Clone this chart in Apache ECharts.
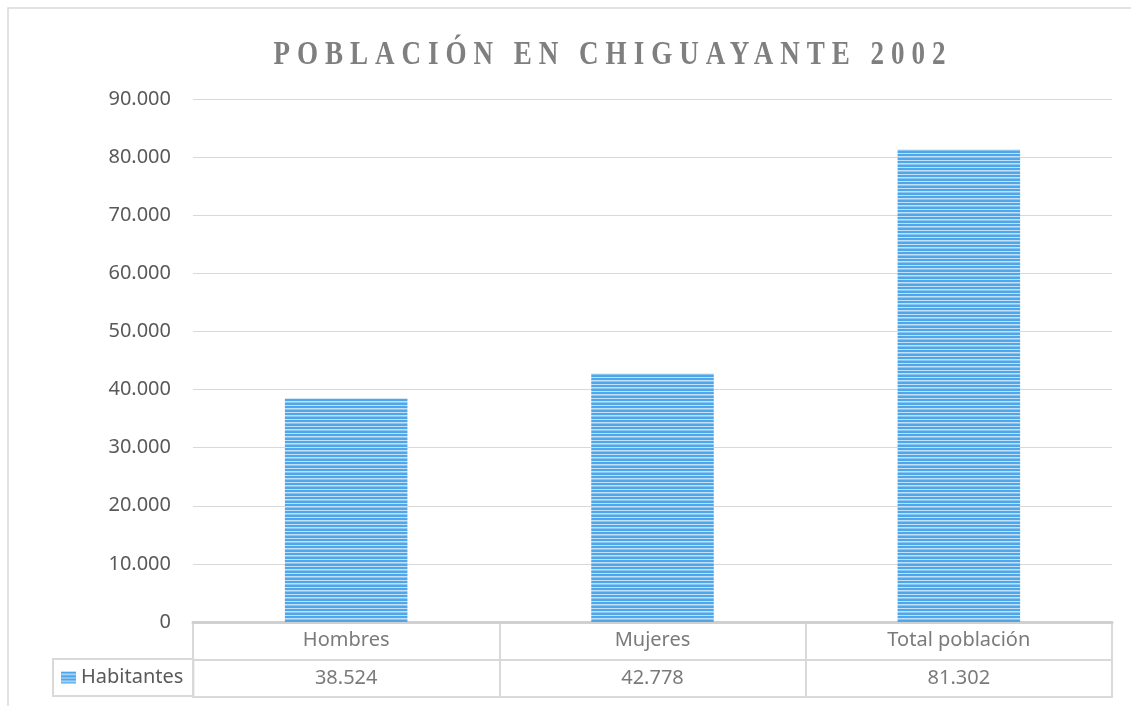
<!DOCTYPE html>
<html>
<head>
<meta charset="utf-8">
<script src="https://cdn.jsdelivr.net/npm/echarts@6/dist/echarts.min.js"></script>
<style>
  html, body { margin: 0; padding: 0; background: #fff; }
  #main { width: 1131px; height: 706px; }
</style>
</head>
<body>
<div id="main"></div>
<script>
// datos
var titulo = 'POBLACIÓN EN CHIGUAYANTE 2002';
var categorias = ['Hombres', 'Mujeres', 'Total población'];
var habitantes = [38524, 42778, 81302];
var nombreSerie = 'Habitantes';
var filasTabla = ['valores', 'encabezado'];   // de abajo hacia arriba
var ejeMax = 90000;
var ejeIntervalo = 10000;

// espaciado de letras solo para el titulo (fuente serif)
var fillTextOriginal = CanvasRenderingContext2D.prototype.fillText;
CanvasRenderingContext2D.prototype.fillText = function () {
    this.letterSpacing = this.font.indexOf('Liberation Serif') >= 0 ? '8.5px' : '0px';
    return fillTextOriginal.apply(this, arguments);
};

function miles(v) {
    return String(v).replace(/\B(?=(\d{3})+(?!\d))/g, '.');
}

// trama de rayas horizontales de las barras
var trama = document.createElement('canvas');
trama.width = 4;
trama.height = 7;
var tctx = trama.getContext('2d');
tctx.fillStyle = '#4fa7eb';
tctx.fillRect(0, 0, 4, 7);
tctx.fillStyle = '#c4e0f7';
tctx.fillRect(0, 2, 4, 1);
tctx.fillRect(0, 6, 4, 1);
tctx.fillStyle = '#8cc4f0';
tctx.fillRect(0, 3, 4, 1);

var colorTexto = '#595959';
var colorLinea = '#d9d9d9';
var fuente = '"Noto Sans", "Open Sans", sans-serif';

var myChart = echarts.init(document.getElementById('main'));

var option = {
    animation: false,
    graphic: [
        {
            type: 'rect',
            shape: { x: 8, y: 8, width: 1200, height: 800 },
            style: { fill: 'none', stroke: colorLinea, lineWidth: 1.5 },
            silent: true
        },
        {
            type: 'text',
            x: 613,
            y: 55,
            scaleX: 0.82,
            style: {
                text: titulo,
                fontSize: 33,
                fontWeight: 'bold',
                fontFamily: '"Liberation Serif", serif',
                fill: '#7f7f7f',
                align: 'center',
                verticalAlign: 'middle'
            },
            silent: true
        }
    ],
    legend: {
        data: [nombreSerie],
        left: 53,
        top: 659,
        padding: [8, 10, 8, 8],
        borderColor: colorLinea,
        borderWidth: 2,
        icon: 'rect',
        itemWidth: 15,
        itemHeight: 12,
        selectedMode: false,
        textStyle: { fontSize: 20, lineHeight: 21, color: colorTexto, fontFamily: fuente }
    },
    grid: [
        { left: 193, right: 19, top: 99, bottom: 84 },
        { left: 193, right: 19, top: 622, height: 75, show: true, borderColor: colorLinea, borderWidth: 2, backgroundColor: 'transparent' }
    ],
    xAxis: [
        {
            type: 'category',
            gridIndex: 0,
            data: categorias,
            axisLabel: { show: false },
            axisTick: { show: false },
            axisLine: { show: true, lineStyle: { color: '#d0d0d0', width: 3 } }
        },
        {
            type: 'category',
            gridIndex: 1,
            data: categorias,
            axisLabel: { show: false },
            axisTick: { show: false },
            axisLine: { show: false },
            splitLine: { show: true, lineStyle: { color: colorLinea, width: 2 } }
        }
    ],
    yAxis: [
        {
            type: 'value',
            gridIndex: 0,
            min: 0,
            max: ejeMax,
            interval: ejeIntervalo,
            axisLine: { show: false },
            axisTick: { show: false },
            axisLabel: {
                margin: 22,
                fontSize: 20,
                color: colorTexto,
                fontFamily: fuente,
                formatter: function (v) { return miles(v); }
            },
            splitLine: { lineStyle: { color: colorLinea, width: 1 } }
        },
        {
            type: 'category',
            gridIndex: 1,
            data: filasTabla,
            axisLabel: { show: false },
            axisTick: { show: false },
            axisLine: { show: false },
            splitLine: { show: true, lineStyle: { color: colorLinea, width: 2 } }
        }
    ],
    series: [
        {
            name: nombreSerie,
            type: 'bar',
            xAxisIndex: 0,
            yAxisIndex: 0,
            barWidth: '40%',
            data: habitantes,
            itemStyle: { color: { image: trama, repeat: 'repeat' } }
        },
        {
            name: 'encabezado',
            type: 'scatter',
            xAxisIndex: 1,
            yAxisIndex: 1,
            symbolSize: 1,
            silent: true,
            itemStyle: { color: 'rgba(0,0,0,0)' },
            data: categorias.map(function (c) { return [c, 'encabezado']; }),
            label: {
                show: true,
                position: 'inside',
                fontSize: 20,
                color: colorTexto,
                fontFamily: fuente,
                formatter: function (p) { return p.data[0]; }
            }
        },
        {
            name: 'valores',
            type: 'scatter',
            xAxisIndex: 1,
            yAxisIndex: 1,
            symbolSize: 1,
            silent: true,
            itemStyle: { color: 'rgba(0,0,0,0)' },
            data: habitantes.map(function (v, i) { return [categorias[i], 'valores', v]; }),
            label: {
                show: true,
                position: 'inside',
                fontSize: 20,
                color: colorTexto,
                fontFamily: fuente,
                formatter: function (p) { return miles(p.data[2]); }
            }
        }
    ]
};

myChart.setOption(option);
</script>
</body>
</html>
